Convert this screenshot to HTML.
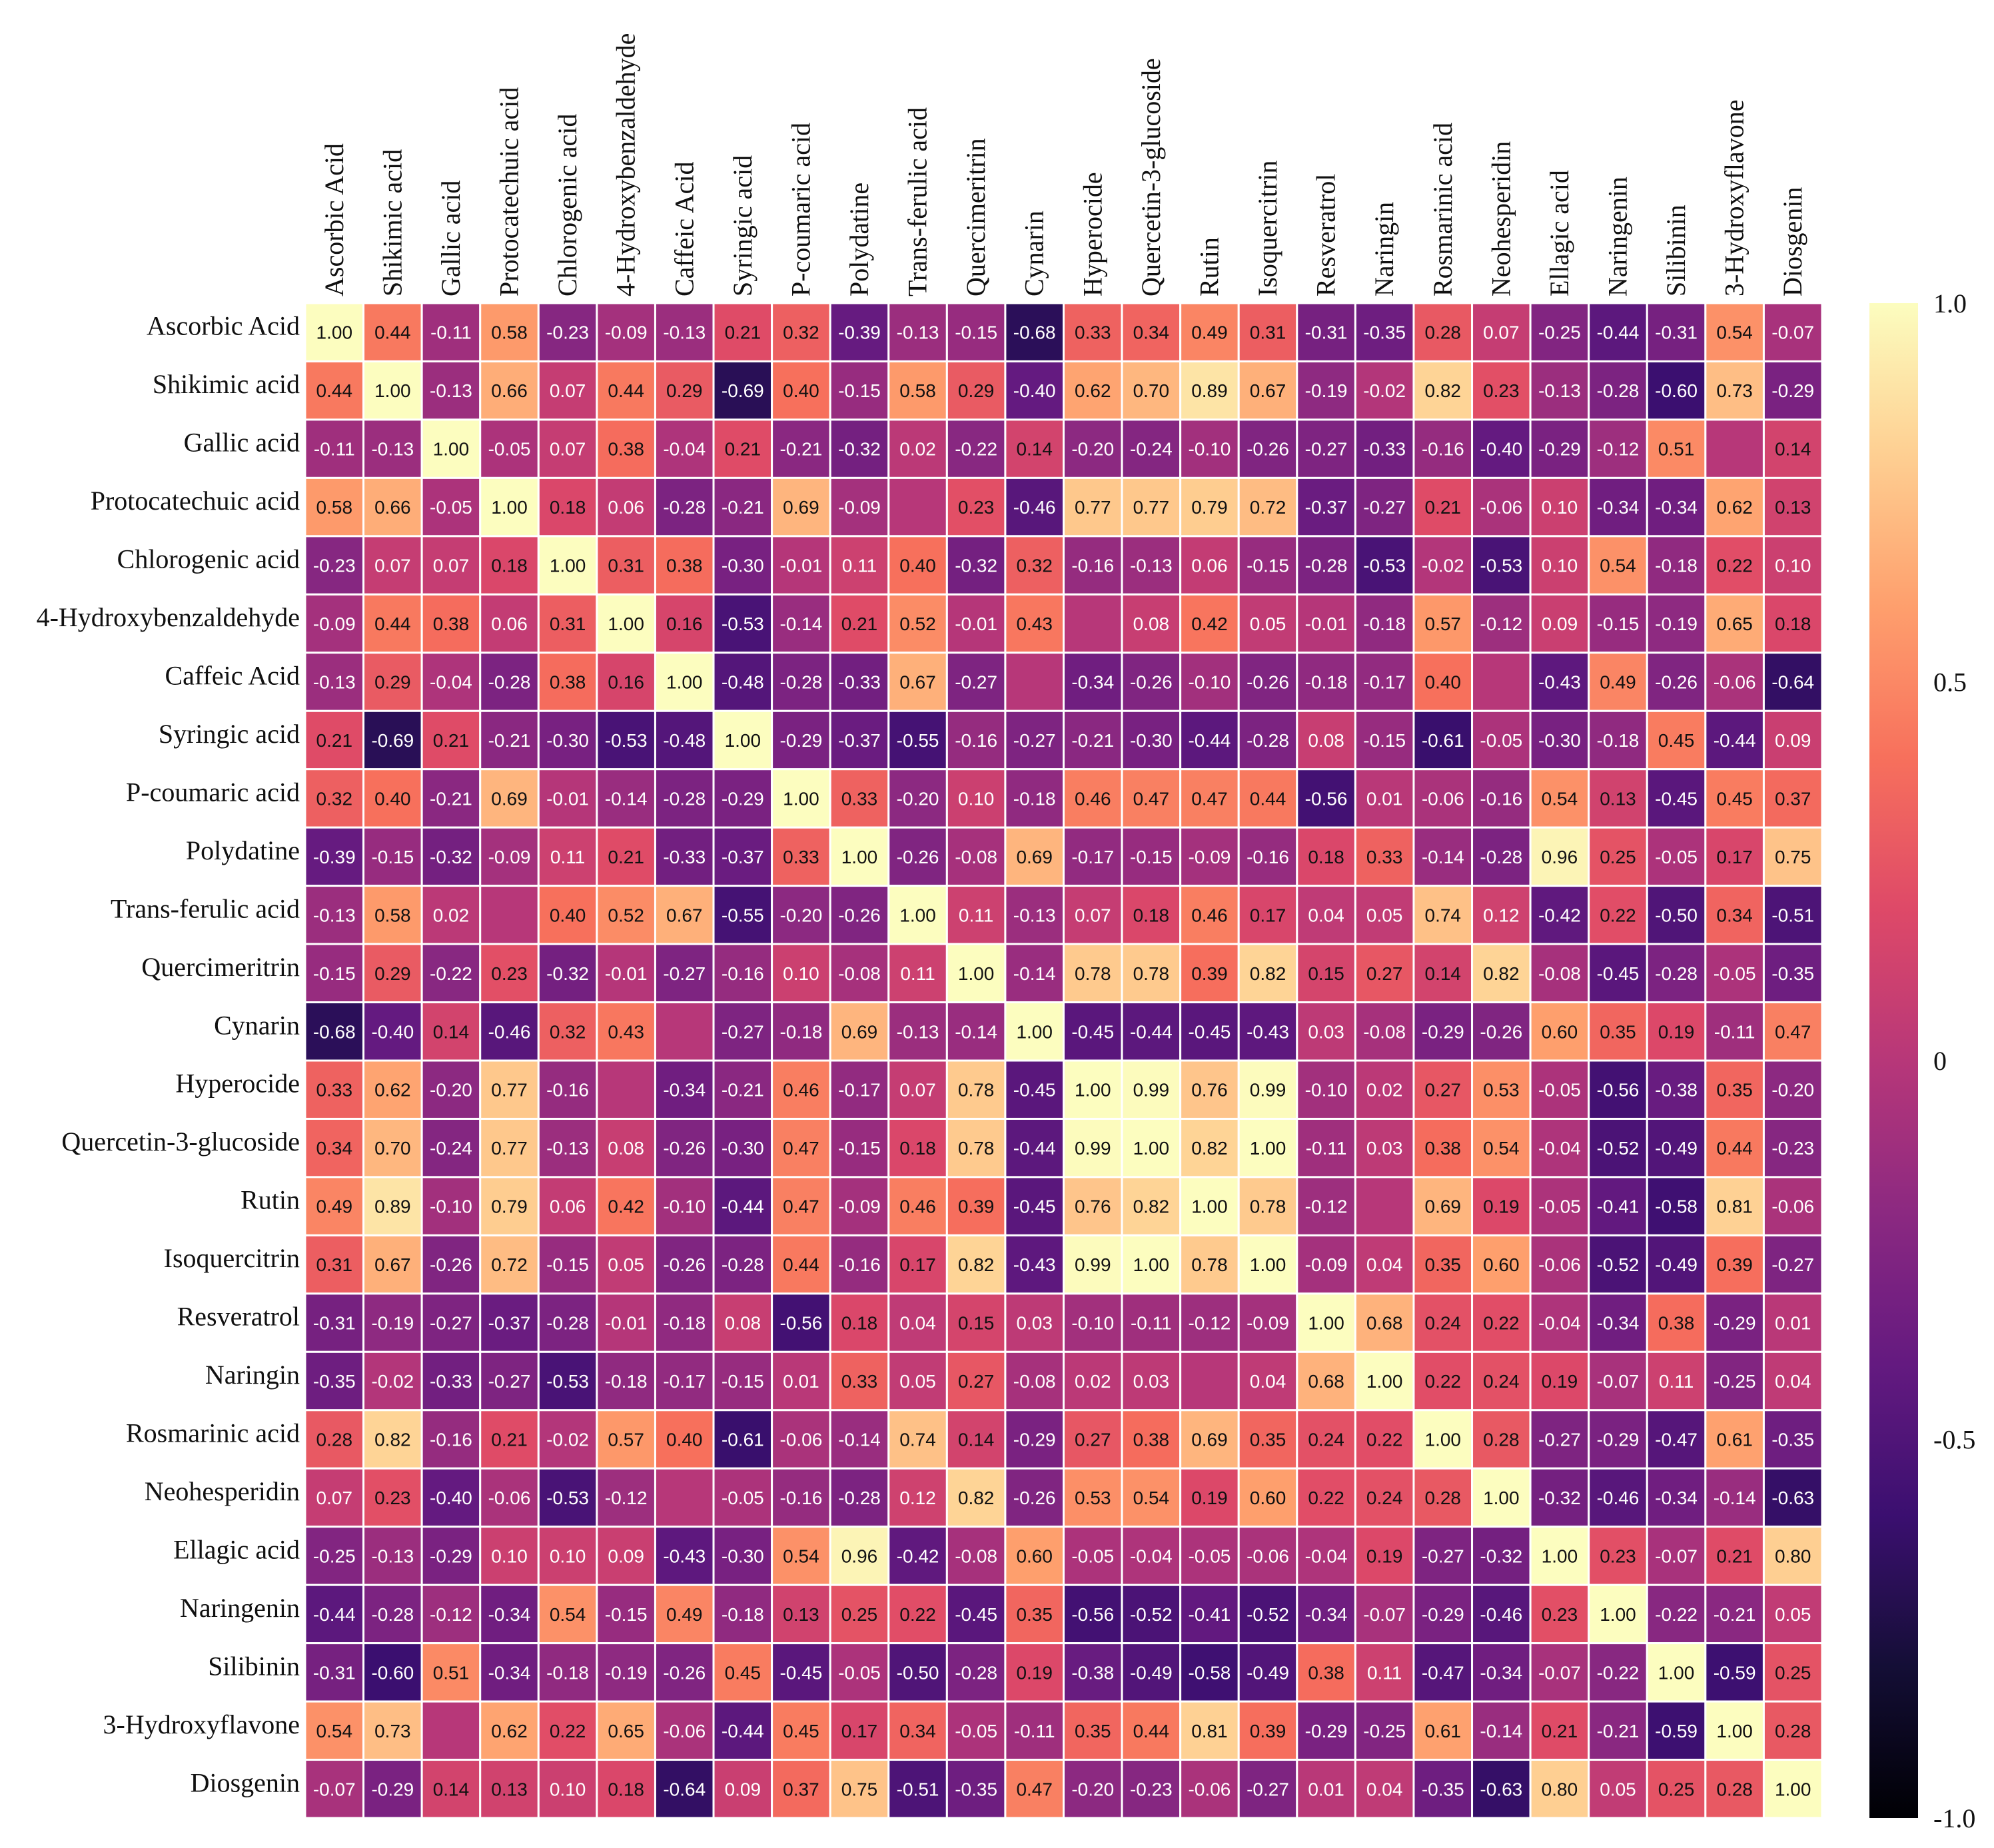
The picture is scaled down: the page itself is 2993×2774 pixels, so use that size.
<!DOCTYPE html>
<html><head><meta charset="utf-8"><style>
html,body{margin:0;padding:0;background:#fff}
svg{display:block}
</style></head><body>
<svg id="chart" width="2993" height="2774" viewBox="0 0 2993 2774" xmlns="http://www.w3.org/2000/svg">
<defs><linearGradient id="cbgrad" x1="0" y1="1" x2="0" y2="0"></linearGradient></defs>
<g id="cells"></g>
<g id="rowlabels"></g>
<g id="collabels"></g>
<g id="colorbar"></g>
</svg>
<script>
const labels = ["Ascorbic Acid","Shikimic acid","Gallic acid","Protocatechuic acid","Chlorogenic acid","4-Hydroxybenzaldehyde","Caffeic Acid","Syringic acid","P-coumaric acid","Polydatine","Trans-ferulic acid","Quercimeritrin","Cynarin","Hyperocide","Quercetin-3-glucoside","Rutin","Isoquercitrin","Resveratrol","Naringin","Rosmarinic acid","Neohesperidin","Ellagic acid","Naringenin","Silibinin","3-Hydroxyflavone","Diosgenin"];
const N = null;
const matrix = [
[1.00,0.44,-0.11,0.58,-0.23,-0.09,-0.13,0.21,0.32,-0.39,-0.13,-0.15,-0.68,0.33,0.34,0.49,0.31,-0.31,-0.35,0.28,0.07,-0.25,-0.44,-0.31,0.54,-0.07],
[0.44,1.00,-0.13,0.66,0.07,0.44,0.29,-0.69,0.40,-0.15,0.58,0.29,-0.40,0.62,0.70,0.89,0.67,-0.19,-0.02,0.82,0.23,-0.13,-0.28,-0.60,0.73,-0.29],
[-0.11,-0.13,1.00,-0.05,0.07,0.38,-0.04,0.21,-0.21,-0.32,0.02,-0.22,0.14,-0.20,-0.24,-0.10,-0.26,-0.27,-0.33,-0.16,-0.40,-0.29,-0.12,0.51,N,0.14],
[0.58,0.66,-0.05,1.00,0.18,0.06,-0.28,-0.21,0.69,-0.09,N,0.23,-0.46,0.77,0.77,0.79,0.72,-0.37,-0.27,0.21,-0.06,0.10,-0.34,-0.34,0.62,0.13],
[-0.23,0.07,0.07,0.18,1.00,0.31,0.38,-0.30,-0.01,0.11,0.40,-0.32,0.32,-0.16,-0.13,0.06,-0.15,-0.28,-0.53,-0.02,-0.53,0.10,0.54,-0.18,0.22,0.10],
[-0.09,0.44,0.38,0.06,0.31,1.00,0.16,-0.53,-0.14,0.21,0.52,-0.01,0.43,N,0.08,0.42,0.05,-0.01,-0.18,0.57,-0.12,0.09,-0.15,-0.19,0.65,0.18],
[-0.13,0.29,-0.04,-0.28,0.38,0.16,1.00,-0.48,-0.28,-0.33,0.67,-0.27,N,-0.34,-0.26,-0.10,-0.26,-0.18,-0.17,0.40,N,-0.43,0.49,-0.26,-0.06,-0.64],
[0.21,-0.69,0.21,-0.21,-0.30,-0.53,-0.48,1.00,-0.29,-0.37,-0.55,-0.16,-0.27,-0.21,-0.30,-0.44,-0.28,0.08,-0.15,-0.61,-0.05,-0.30,-0.18,0.45,-0.44,0.09],
[0.32,0.40,-0.21,0.69,-0.01,-0.14,-0.28,-0.29,1.00,0.33,-0.20,0.10,-0.18,0.46,0.47,0.47,0.44,-0.56,0.01,-0.06,-0.16,0.54,0.13,-0.45,0.45,0.37],
[-0.39,-0.15,-0.32,-0.09,0.11,0.21,-0.33,-0.37,0.33,1.00,-0.26,-0.08,0.69,-0.17,-0.15,-0.09,-0.16,0.18,0.33,-0.14,-0.28,0.96,0.25,-0.05,0.17,0.75],
[-0.13,0.58,0.02,N,0.40,0.52,0.67,-0.55,-0.20,-0.26,1.00,0.11,-0.13,0.07,0.18,0.46,0.17,0.04,0.05,0.74,0.12,-0.42,0.22,-0.50,0.34,-0.51],
[-0.15,0.29,-0.22,0.23,-0.32,-0.01,-0.27,-0.16,0.10,-0.08,0.11,1.00,-0.14,0.78,0.78,0.39,0.82,0.15,0.27,0.14,0.82,-0.08,-0.45,-0.28,-0.05,-0.35],
[-0.68,-0.40,0.14,-0.46,0.32,0.43,N,-0.27,-0.18,0.69,-0.13,-0.14,1.00,-0.45,-0.44,-0.45,-0.43,0.03,-0.08,-0.29,-0.26,0.60,0.35,0.19,-0.11,0.47],
[0.33,0.62,-0.20,0.77,-0.16,N,-0.34,-0.21,0.46,-0.17,0.07,0.78,-0.45,1.00,0.99,0.76,0.99,-0.10,0.02,0.27,0.53,-0.05,-0.56,-0.38,0.35,-0.20],
[0.34,0.70,-0.24,0.77,-0.13,0.08,-0.26,-0.30,0.47,-0.15,0.18,0.78,-0.44,0.99,1.00,0.82,1.00,-0.11,0.03,0.38,0.54,-0.04,-0.52,-0.49,0.44,-0.23],
[0.49,0.89,-0.10,0.79,0.06,0.42,-0.10,-0.44,0.47,-0.09,0.46,0.39,-0.45,0.76,0.82,1.00,0.78,-0.12,N,0.69,0.19,-0.05,-0.41,-0.58,0.81,-0.06],
[0.31,0.67,-0.26,0.72,-0.15,0.05,-0.26,-0.28,0.44,-0.16,0.17,0.82,-0.43,0.99,1.00,0.78,1.00,-0.09,0.04,0.35,0.60,-0.06,-0.52,-0.49,0.39,-0.27],
[-0.31,-0.19,-0.27,-0.37,-0.28,-0.01,-0.18,0.08,-0.56,0.18,0.04,0.15,0.03,-0.10,-0.11,-0.12,-0.09,1.00,0.68,0.24,0.22,-0.04,-0.34,0.38,-0.29,0.01],
[-0.35,-0.02,-0.33,-0.27,-0.53,-0.18,-0.17,-0.15,0.01,0.33,0.05,0.27,-0.08,0.02,0.03,N,0.04,0.68,1.00,0.22,0.24,0.19,-0.07,0.11,-0.25,0.04],
[0.28,0.82,-0.16,0.21,-0.02,0.57,0.40,-0.61,-0.06,-0.14,0.74,0.14,-0.29,0.27,0.38,0.69,0.35,0.24,0.22,1.00,0.28,-0.27,-0.29,-0.47,0.61,-0.35],
[0.07,0.23,-0.40,-0.06,-0.53,-0.12,N,-0.05,-0.16,-0.28,0.12,0.82,-0.26,0.53,0.54,0.19,0.60,0.22,0.24,0.28,1.00,-0.32,-0.46,-0.34,-0.14,-0.63],
[-0.25,-0.13,-0.29,0.10,0.10,0.09,-0.43,-0.30,0.54,0.96,-0.42,-0.08,0.60,-0.05,-0.04,-0.05,-0.06,-0.04,0.19,-0.27,-0.32,1.00,0.23,-0.07,0.21,0.80],
[-0.44,-0.28,-0.12,-0.34,0.54,-0.15,0.49,-0.18,0.13,0.25,0.22,-0.45,0.35,-0.56,-0.52,-0.41,-0.52,-0.34,-0.07,-0.29,-0.46,0.23,1.00,-0.22,-0.21,0.05],
[-0.31,-0.60,0.51,-0.34,-0.18,-0.19,-0.26,0.45,-0.45,-0.05,-0.50,-0.28,0.19,-0.38,-0.49,-0.58,-0.49,0.38,0.11,-0.47,-0.34,-0.07,-0.22,1.00,-0.59,0.25],
[0.54,0.73,N,0.62,0.22,0.65,-0.06,-0.44,0.45,0.17,0.34,-0.05,-0.11,0.35,0.44,0.81,0.39,-0.29,-0.25,0.61,-0.14,0.21,-0.21,-0.59,1.00,0.28],
[-0.07,-0.29,0.14,0.13,0.10,0.18,-0.64,0.09,0.37,0.75,-0.51,-0.35,0.47,-0.20,-0.23,-0.06,-0.27,0.01,0.04,-0.35,-0.63,0.80,0.05,0.25,0.28,1.00]
];
const cbTicks = [1.0, 0.5, 0, -0.5, -1.0];
const cbTickLabels = ["1.0","0.5","0","-0.5","-1.0"];

const NS = "http://www.w3.org/2000/svg";
const X0 = 458, Y0 = 455, X1 = 2735, Y1 = 2729;
const n = labels.length;
const cw = (X1 - X0) / n, ch = (Y1 - Y0) / n;
const xPos = i => X0 + i * cw;
const yPos = i => Y0 + i * ch;
const CB_X = 2806, CB_W = 73;
const cbY = v => Y1 - (v + 1) / 2 * (Y1 - Y0);

const magma = [[0,0,0,4],[0.1,20,14,54],[0.2,59,15,112],[0.3,100,26,128],[0.4,140,41,129],[0.5,183,55,121],[0.6,222,73,104],[0.7,247,112,92],[0.8,254,159,109],[0.9,254,207,146],[1.0,252,253,191]];
function cmap(v){
  const t = Math.max(0, Math.min(1, (v + 1) / 2));
  for (let k = 0; k < magma.length - 1; k++) {
    const a = magma[k], b = magma[k+1];
    if (t <= b[0]) {
      const f = (t - a[0]) / (b[0] - a[0]);
      return [0,1,2].map(j => Math.round(a[j+1] + f * (b[j+1] - a[j+1])));
    }
  }
  return magma[magma.length-1].slice(1);
}
function mk(tag, attrs, parent){
  const e = document.createElementNS(NS, tag);
  for (const k in attrs) e.setAttribute(k, attrs[k]);
  parent.appendChild(e);
  return e;
}
const gCells = document.getElementById('cells');
for (let r = 0; r < n; r++) {
  for (let c = 0; c < n; c++) {
    const v = matrix[r][c];
    const col = cmap(v === null ? 0 : v);
    const rect = mk('rect', {x: xPos(c), y: yPos(r), width: cw, height: ch, fill: `rgb(${col})`, stroke: '#fff', 'stroke-width': 3}, gCells);
    
    
    if (v !== null) {
      const t = mk('text', {x: xPos(c) + cw/2, y: yPos(r) + ch/2 + 10, 'text-anchor': 'middle', 'font-family': 'Liberation Sans, sans-serif', 'font-size': 28, fill: v >= 0.125 ? '#111' : '#fff'}, gCells);
      t.textContent = v.toFixed(2);
      
      
    }
  }
}
const gRow = document.getElementById('rowlabels');
const gCol = document.getElementById('collabels');
labels.forEach((lab, i) => {
  const t = mk('text', {x: X0 - 8, y: yPos(i) + ch/2 + 4, 'text-anchor': 'end', 'font-family': 'Liberation Serif, serif', 'font-size': 40, fill: '#111'}, gRow);
  t.textContent = lab;
  
  
  const cx = xPos(i) + cw/2 + 13, cy = Y0 - 10;
  const u = mk('text', {x: cx, y: cy, transform: `rotate(-90 ${cx} ${cy})`, 'text-anchor': 'start', 'font-family': 'Liberation Serif, serif', 'font-size': 40, fill: '#111'}, gCol);
  u.textContent = lab;
  
  
});
const grad = document.getElementById('cbgrad');
for (let k = 0; k <= 20; k++) {
  const col = cmap(-1 + k / 10);
  mk('stop', {offset: k / 20, 'stop-color': `rgb(${col})`}, grad);
}
const gCb = document.getElementById('colorbar');
const cbr = mk('rect', {x: CB_X, y: Y0, width: CB_W, height: Y1 - Y0, fill: 'url(#cbgrad)'}, gCb);


cbTicks.forEach((v, i) => {
  const t = mk('text', {x: 2902, y: cbY(v) + 14, 'font-family': 'Liberation Serif, serif', 'font-size': 40, fill: '#111'}, gCb);
  t.textContent = cbTickLabels[i];
  
  
});
</script>
</body></html>
